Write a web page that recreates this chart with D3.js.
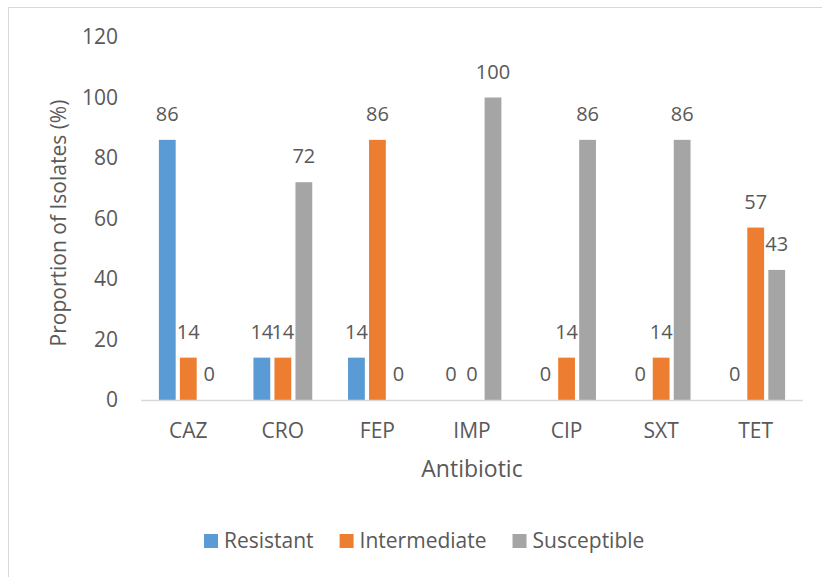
<!DOCTYPE html>
<html>
<head>
<meta charset="utf-8">
<script src="https://cdn.jsdelivr.net/npm/d3@7"></script>
<style>
  body { margin: 0; background: #fff; }
  svg text { font-family: "Open Sans", sans-serif; fill: #595959; }
</style>
</head>
<body>
<svg id="chart" width="822" height="577"></svg>
<script>
// data
const antibiotics = ["CAZ", "CRO", "FEP", "IMP", "CIP", "SXT", "TET"];
const seriesNames = ["Resistant", "Intermediate", "Susceptible"];
const resistant = [86, 14, 14, 0, 0, 0, 0];
const intermediate = [14, 14, 86, 0, 14, 14, 57];
const susceptible = [0, 72, 0, 100, 86, 86, 43];
const yTicks = [0, 20, 40, 60, 80, 100, 120];

const colors = ["#5b9bd5", "#ed7d31", "#a5a5a5"];
const seriesValues = [resistant, intermediate, susceptible];

const svg = d3.select("#chart");

// chart area border (only top + left visible in the crop)
svg.append("rect")
  .attr("x", 8.5).attr("y", 7.5)
  .attr("width", 900).attr("height", 700)
  .attr("fill", "none")
  .attr("stroke", "#d9d9d9");

const plot = { left: 141, right: 803, top: 37, bottom: 400 };

const x0 = d3.scaleBand()
  .domain(antibiotics)
  .range([plot.left, plot.right]);

const x1 = d3.scaleBand()
  .domain(seriesNames)
  .range([-31.5, 31.5])
  .paddingInner(0.2)
  .paddingOuter(0.1);

const y = d3.scaleLinear()
  .domain([0, 120])
  .range([plot.bottom, plot.top]);

// y tick labels
svg.append("g")
  .selectAll("text")
  .data(yTicks)
  .join("text")
  .attr("x", 118)
  .attr("y", d => y(d))
  .attr("dy", "0.35em")
  .attr("text-anchor", "end")
  .style("font-size", "21px")
  .text(d => d);

// flatten into bars
const bars = antibiotics.flatMap((a, i) =>
  seriesNames.map((s, j) => ({ antibiotic: a, series: s, idx: j, value: seriesValues[j][i] }))
);

const cx = d => x0(d.antibiotic) + x0.bandwidth() / 2;

svg.append("g")
  .selectAll("rect")
  .data(bars.filter(d => d.value > 0))
  .join("rect")
  .attr("x", d => cx(d) + x1(d.series))
  .attr("y", d => y(d.value))
  .attr("width", x1.bandwidth())
  .attr("height", d => y(0) - y(d.value))
  .attr("fill", d => colors[d.idx]);

// baseline
svg.append("line")
  .attr("x1", plot.left).attr("x2", plot.right)
  .attr("y1", y(0) + 0.5).attr("y2", y(0) + 0.5)
  .attr("stroke", "#d9d9d9")
  .attr("stroke-width", 1.5);

// value labels
svg.append("g")
  .selectAll("text")
  .data(bars)
  .join("text")
  .attr("x", d => cx(d) + x1(d.series) + x1.bandwidth() / 2)
  .attr("y", d => y(d.value) - 19)
  .attr("text-anchor", "middle")
  .style("font-size", "20px")
  .text(d => d.value);

// category labels
svg.append("g")
  .selectAll("text")
  .data(antibiotics)
  .join("text")
  .attr("x", d => x0(d) + x0.bandwidth() / 2)
  .attr("y", 431)
  .attr("dy", "0.35em")
  .attr("text-anchor", "middle")
  .style("font-size", "21px")
  .text(d => d);

// axis titles
svg.append("text")
  .attr("x", 472)
  .attr("y", 469)
  .attr("dy", "0.35em")
  .attr("text-anchor", "middle")
  .style("font-size", "23px")
  .text("Antibiotic");

svg.append("text")
  .attr("transform", "translate(59,223) rotate(-90)")
  .attr("dy", "0.35em")
  .attr("text-anchor", "middle")
  .style("font-size", "21px")
  .text("Proportion of Isolates (%)");

// legend
const legend = svg.append("g").attr("transform", "translate(204,541)");
let lx = 0;
seriesNames.forEach((s, i) => {
  const g = legend.append("g").attr("transform", `translate(${lx},0)`);
  g.append("rect")
    .attr("x", 0).attr("y", -7)
    .attr("width", 14).attr("height", 14)
    .attr("fill", colors[i]);
  const t = g.append("text")
    .attr("x", 20)
    .attr("y", 0)
    .attr("dy", "0.35em")
    .style("font-size", "21px")
    .text(s);
  lx += 20 + t.node().getComputedTextLength() + 26;
});
</script>
</body>
</html>
